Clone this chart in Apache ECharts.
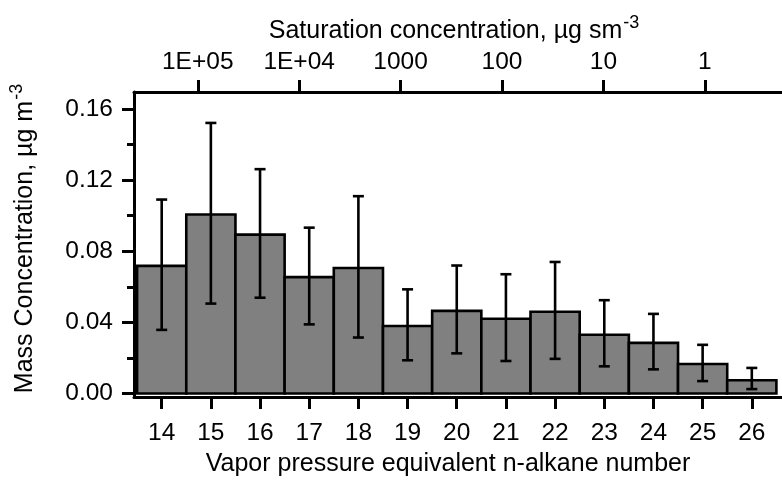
<!DOCTYPE html>
<html>
<head>
<meta charset="utf-8">
<script src="https://cdn.jsdelivr.net/npm/echarts@6/dist/echarts.min.js"></script>
<style>html,body{margin:0;padding:0;background:#fff}#c{width:782px;height:482px}</style>
</head>
<body>
<div id="c"></div>
<script>
const alkaneNumbers = [14, 15, 16, 17, 18, 19, 20, 21, 22, 23, 24, 25, 26];
const massConc = [0.0718, 0.1007, 0.0894, 0.0655, 0.0706, 0.0380, 0.0465, 0.0421, 0.0460, 0.0331, 0.0285, 0.0166, 0.0075];
const errLower = [0.0358, 0.0506, 0.0539, 0.0389, 0.0315, 0.0187, 0.0226, 0.0183, 0.0195, 0.0153, 0.0136, 0.0070, 0.0025];
const errUpper = [0.1091, 0.1522, 0.1262, 0.0933, 0.1110, 0.0586, 0.0720, 0.0671, 0.0740, 0.0525, 0.0448, 0.0274, 0.0144];
const satTickLogs = [5, 4, 3, 2, 1, 0];
const satTickLabels = ['1E+05', '1E+04', '1000', '100', '10', '1'];
const yMajorTicks = [0, 0.04, 0.08, 0.12, 0.16];
const yMinorTicks = [0.02, 0.06, 0.10, 0.14];

const FONT = 'Liberation Sans, Arial, Helvetica, sans-serif';
const FS = 24.5;
const TFS = 25;
const black = '#000';
const LW = 3;

const barData = alkaneNumbers.map((n, i) => [n, massConc[i]]);
const errData = alkaneNumbers.map((n, i) => [n, errLower[i], errUpper[i]]);

const supRich = {
  m: {fontSize: TFS, color: black, fontFamily: FONT},
  s: {fontSize: 18, color: black, fontFamily: FONT, verticalAlign: 'top', padding: [0, 0, 16, 1]}
};

const chart = echarts.init(document.getElementById('c'), null, {renderer: 'canvas'});
chart.setOption({
  animation: false,
  backgroundColor: '#fff',
  textStyle: {fontFamily: FONT, color: black},
  grid: {left: 131.5, right: 0, top: 92, bottom: 82, containLabel: false},
  xAxis: [
    {
      type: 'value', position: 'bottom', min: 13.437, max: 26.614,
      axisLine: {show: true, onZero: false, lineStyle: {color: black, width: LW}},
      axisTick: {show: true, customValues: alkaneNumbers, length: 12, lineStyle: {color: black, width: LW}},
      axisLabel: {customValues: alkaneNumbers, fontSize: FS, color: black, margin: 24, fontFamily: FONT},
      splitLine: {show: false},
      name: 'Vapor pressure equivalent n-alkane number',
      nameLocation: 'middle', nameGap: 55,
      nameTextStyle: {fontSize: TFS, color: black, fontFamily: FONT, padding: [0, 20, 0, 0]}
    },
    {
      type: 'value', position: 'top', inverse: true, min: -0.7613, max: 5.6287,
      axisLine: {show: true, onZero: false, lineStyle: {color: black, width: LW}},
      axisTick: {show: true, customValues: satTickLogs, length: 12, lineStyle: {color: black, width: LW}},
      axisLabel: {
        customValues: satTickLogs, fontSize: FS, color: black, margin: 17, fontFamily: FONT,
        formatter: function (v) { const i = satTickLogs.indexOf(Math.round(v)); return i >= 0 ? satTickLabels[i] : ''; }
      },
      splitLine: {show: false},
      name: '{m|Saturation concentration, µg sm}{s|-3}',
      nameLocation: 'middle', nameGap: 44,
      nameTextStyle: {color: black, fontFamily: FONT, padding: [0, 8, 0, 0], rich: supRich}
    }
  ],
  yAxis: [
    {
      type: 'value', position: 'left', min: -0.00195, max: 0.1696,
      axisLine: {show: true, onZero: false, lineStyle: {color: black, width: LW}},
      axisTick: {show: true, customValues: yMajorTicks, length: 12, lineStyle: {color: black, width: LW}},
      axisLabel: {
        customValues: yMajorTicks, fontSize: FS, color: black, margin: 21, fontFamily: FONT,
        formatter: function (v) { return v.toFixed(2); }
      },
      splitLine: {show: false},
      name: '{m|Mass Concentration, µg m}{s|-3}',
      nameLocation: 'middle', nameGap: 92,
      nameTextStyle: {color: black, fontFamily: FONT, padding: [0, 0, 0, 12], rich: supRich}
    },
    {
      type: 'value', position: 'left', min: -0.00195, max: 0.1696,
      axisLine: {show: false, onZero: false},
      axisTick: {show: true, customValues: yMinorTicks, length: 7, lineStyle: {color: black, width: LW}},
      axisLabel: {show: false},
      splitLine: {show: false}
    }
  ],
  series: [
    {
      type: 'custom', name: 'Mass concentration', xAxisIndex: 0, yAxisIndex: 0,
      data: barData, encode: {x: 0, y: 1},
      renderItem: function (params, api) {
        const x = api.value(0), y = api.value(1);
        const p1 = api.coord([x - 0.5, y]);
        const p2 = api.coord([x + 0.5, 0]);
        return {
          type: 'rect',
          shape: {x: p1[0], y: p1[1], width: p2[0] - p1[0], height: p2[1] - p1[1]},
          style: {fill: '#808080', stroke: black, lineWidth: 2.6}
        };
      }
    },
    {
      type: 'custom', name: 'Error', xAxisIndex: 0, yAxisIndex: 0,
      data: errData, encode: {x: 0, y: [1, 2]},
      renderItem: function (params, api) {
        const x = api.value(0);
        const lo = api.coord([x, api.value(1)]);
        const hi = api.coord([x, api.value(2)]);
        const cap = 5.5;
        const st = {stroke: black, lineWidth: 2.6, fill: null};
        return {
          type: 'group',
          children: [
            {type: 'line', shape: {x1: lo[0], y1: lo[1], x2: hi[0], y2: hi[1]}, style: st},
            {type: 'line', shape: {x1: hi[0] - cap, y1: hi[1], x2: hi[0] + cap, y2: hi[1]}, style: st},
            {type: 'line', shape: {x1: lo[0] - cap, y1: lo[1], x2: lo[0] + cap, y2: lo[1]}, style: st}
          ]
        };
      },
      z: 3
    }
  ]
});
</script>
</body>
</html>
